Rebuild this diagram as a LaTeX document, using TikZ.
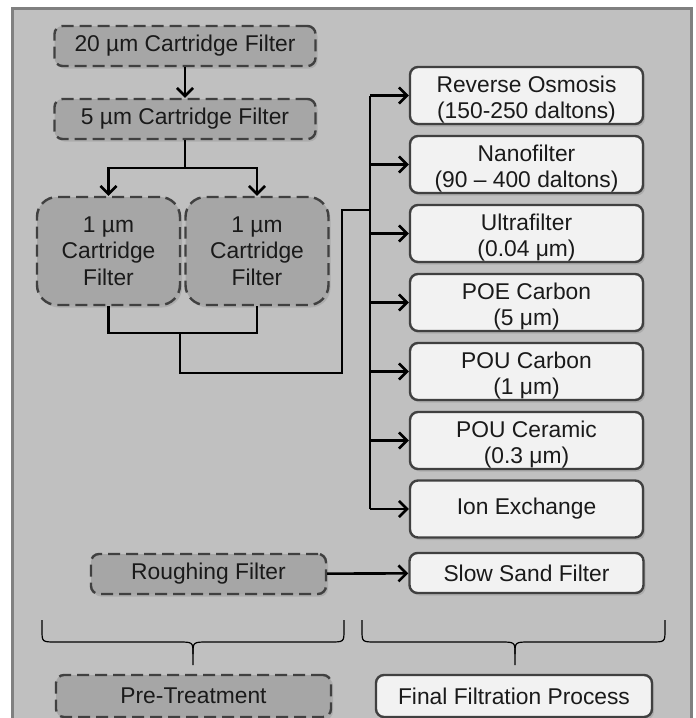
\documentclass[tikz,border=0pt]{standalone}
\usepackage{fontspec}
\setmainfont{Liberation Sans}
\usetikzlibrary{arrows.meta,shadows}
\definecolor{bgc}{HTML}{C0C0C0}
\definecolor{framec}{HTML}{808080}
\definecolor{darkbox}{HTML}{A6A6A6}
\definecolor{litebox}{HTML}{F2F2F2}
\definecolor{edgec}{HTML}{404040}
\definecolor{ink}{HTML}{1A1A1A}
\newcommand\myup{\rule{0pt}{24.5pt}}
\begin{document}
\begin{tikzpicture}[x=1pt,y=-1pt,
  every node/.style={font=\fontsize{22.8}{26.5}\selectfont, text=ink, align=center, inner sep=0pt},
  shad/.style={drop shadow={opacity=0.3, shadow xshift=2pt, shadow yshift=-2.5pt}},
  prebox/.style={shad, draw=edgec, line width=2.4pt, dash pattern=on 12pt off 6pt, fill=darkbox, rounded corners=8pt},
  finbox/.style={shad, draw=edgec, line width=2.4pt, fill=litebox, rounded corners=8pt},
  twoline/.style={finbox, minimum width=233pt, minimum height=57pt},
  conn/.style={line width=2.6pt, black},
  arr/.style={conn, -{Straight Barb[length=8pt,width=16pt]}},
  bracel/.style={line width=1.2pt, black}
]
\useasboundingbox (0,0) rectangle (696,718);
\fill[bgc] (12,8) rectangle (691,730);
\draw[framec, line width=3pt] (12,730) -- (12,8) -- (691,8) -- (691,730);

% pre-treatment nodes
\node[prebox, minimum width=261pt, minimum height=40pt] (t20) at (185,46) {20 µm Cartridge Filter};
\node[prebox, minimum width=261pt, minimum height=40pt] (t5) at (185,119) {5 µm Cartridge Filter};
\node[prebox, rounded corners=20pt, minimum width=143pt, minimum height=108pt] (l1) at (108.5,251) {1 µm\\Cartridge\\Filter};
\node[prebox, rounded corners=20pt, minimum width=143pt, minimum height=108pt] (r1) at (257,251) {1 µm\\Cartridge\\Filter};
\node[prebox, minimum width=235pt, minimum height=40pt] (rough) at (208.5,574) {Roughing Filter};
\node[prebox, minimum width=275pt, minimum height=42pt] (pre) at (193.5,696) {Pre-Treatment};

% final nodes
\node[twoline] (ro) at (526.5,95.5) {\myup Reverse Osmosis\\(150-250 daltons)};
\node[twoline] (nano) at (526.5,164.5) {\myup Nanofilter\\(90 – 400 daltons)};
\node[twoline] (ultra) at (526.5,233.5) {\myup Ultrafilter\\(0.04 μm)};
\node[twoline] (poe) at (526.5,302.5) {\myup POE Carbon\\(5 μm)};
\node[twoline] (pouc) at (526.5,371.5) {\myup POU Carbon\\(1 μm)};
\node[twoline] (pouce) at (526.5,440.5) {\myup POU Ceramic\\(0.3 μm)};
\node[finbox, minimum width=233pt, minimum height=57pt] (ion) at (526.5,509) {Ion Exchange};
\node[finbox, minimum width=234pt, minimum height=40pt] (ssf) at (526.5,573) {Slow Sand Filter};
\node[finbox, minimum width=276pt, minimum height=42pt] (fin) at (514,696) {Final Filtration Process};

% connectors
\draw[arr] (t20) -- (t5);
\coordinate (s1) at (185,168);
\draw[conn] (t5.south) -- (s1);
\draw[arr] (s1) -| (l1.north);
\draw[arr] (s1) -| (r1.north);
\coordinate (j1) at (180,333);
\coordinate (j2) at (342,373);
\coordinate (j3) at (370,210);
\draw[conn] (l1.south) |- (j1) -| (r1.south);
\draw[conn] (j1) |- (j2) |- (j3);
\draw[conn] (j3 |- ro.west) -- (j3 |- ion.west);
\foreach \n in {ro,nano,ultra,poe,pouc,pouce,ion}{
  \draw[arr] (j3 |- \n.west) -- (\n.west);
}
\draw[arr] (rough) -- (ssf);

% braces
\draw[bracel] (42,620) -- (42,630) .. controls (42,642) .. (56,642) -- (178,642)
  .. controls (193,642) .. (193,654) -- (193,665);
\draw[bracel] (193,654) .. controls (193,642) .. (208,642) -- (330,642)
  .. controls (344,642) .. (344,630) -- (344,620);
\draw[bracel] (362,620) -- (362,630) .. controls (362,642) .. (376,642) -- (500,642)
  .. controls (515,642) .. (515,654) -- (515,665);
\draw[bracel] (515,654) .. controls (515,642) .. (530,642) -- (651,642)
  .. controls (665,642) .. (665,630) -- (665,620);
\end{tikzpicture}
\end{document}
